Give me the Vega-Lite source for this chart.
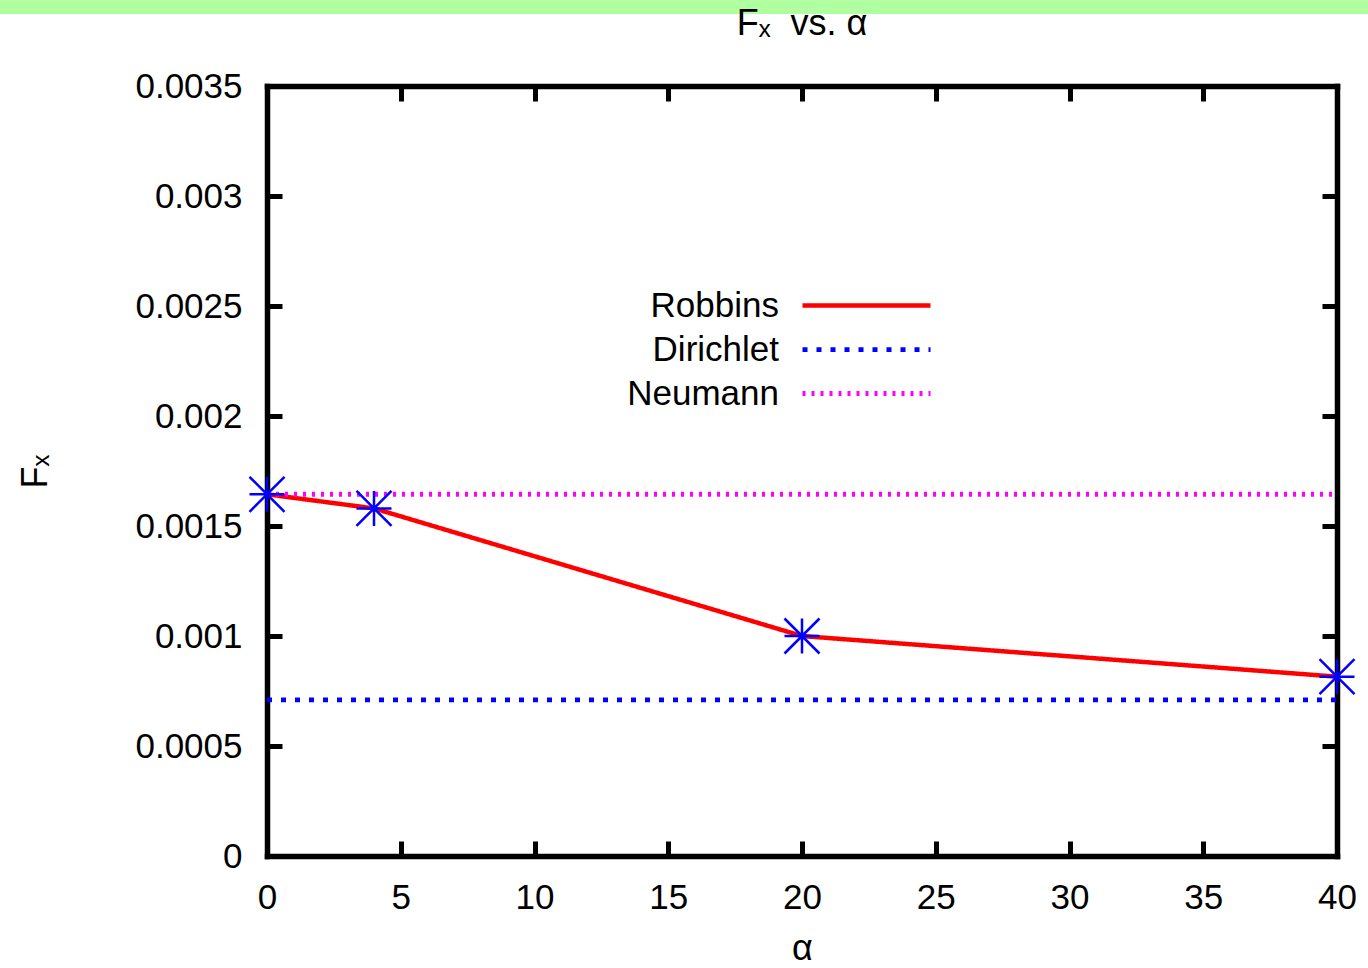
{
  "$schema": "https://vega.github.io/schema/vega-lite/v6.json",
  "padding": 0,
  "background": "white",
  "spacing": 0,
  "bounds": "flush",
  "config": {
    "view": {"stroke": null},
    "font": "Liberation Sans",
    "axis": {
      "grid": false,
      "domainColor": "black",
      "domainWidth": 5.5,
      "domainCap": "square",
      "tickColor": "black",
      "tickWidth": 5,
      "tickSize": -15,
      "labelFontSize": 35,
      "labelColor": "black",
      "labelFlush": false,
      "labelOverlap": false,
      "titleFontSize": 36,
      "titleFontWeight": "normal",
      "titleColor": "black"
    },
    "legend": {
      "orient": "none",
      "legendX": 849,
      "legendY": 288,
      "padding": 0,
      "labelFontSize": 35,
      "labelColor": "black",
      "labelAlign": "right",
      "labelOffset": -105,
      "labelLimit": 0,
      "symbolType": "M-8,0L8,0",
      "symbolSize": 256,
      "rowPadding": 8
    }
  },
  "vconcat": [
    {
      "width": 1368,
      "height": 14,
      "view": {"fill": "#b0ffa0", "stroke": null},
      "data": {"values": [{"a": 1}]},
      "mark": {"type": "point", "opacity": 0},
      "encoding": {}
    },
    {
      "width": 1368,
      "height": 954,
      "title": {
        "text": "Fₓ\u00a0\u00a0vs. α",
        "fontSize": 36,
        "fontWeight": "normal",
        "color": "black",
        "anchor": "middle",
        "dx": 118,
        "offset": -57,
        "baseline": "alphabetic"
      },
      "data": {
        "values": [
          {"series": "Robbins", "alpha": 0, "fx": 0.001644},
          {"series": "Robbins", "alpha": 4, "fx": 0.00158},
          {"series": "Robbins", "alpha": 20, "fx": 0.001},
          {"series": "Robbins", "alpha": 40, "fx": 0.000815},
          {"series": "Dirichlet", "alpha": 0, "fx": 0.00071},
          {"series": "Dirichlet", "alpha": 40, "fx": 0.00071},
          {"series": "Neumann", "alpha": 0, "fx": 0.001644},
          {"series": "Neumann", "alpha": 40, "fx": 0.001644}
        ]
      },
      "layer": [
        {
          "mark": {"type": "line", "clip": false},
          "encoding": {
            "x": {
              "field": "alpha",
              "type": "quantitative",
              "scale": {"domain": [0, 40], "range": [267, 1337], "nice": false},
              "axis": {
                "orient": "bottom",
                "offset": -112,
                "values": [0, 5, 10, 15, 20, 25, 30, 35, 40],
                "labelPadding": 39,
                "title": "α",
                "titlePadding": 16
              }
            },
            "y": {
              "field": "fx",
              "type": "quantitative",
              "scale": {"domain": [0, 0.0035], "range": [842, 72], "nice": false, "zero": false},
              "axis": {
                "orient": "left",
                "offset": -267,
                "values": [0, 0.0005, 0.001, 0.0015, 0.002, 0.0025, 0.003, 0.0035],
                "format": ".4~f",
                "labelPadding": 40,
                "title": "Fₓ",
                "titlePadding": 80
              }
            },
            "color": {
              "field": "series",
              "type": "nominal",
              "scale": {"domain": ["Robbins", "Dirichlet", "Neumann"], "range": ["#ff0000", "#0000ff", "#ff00ff"]},
              "legend": {"title": null}
            },
            "strokeDash": {
              "field": "series",
              "type": "nominal",
              "scale": {"domain": ["Robbins", "Dirichlet", "Neumann"], "range": [[1, 0], [5, 9], [3, 6]]},
              "legend": {"title": null}
            },
            "strokeWidth": {
              "field": "series",
              "type": "nominal",
              "scale": {"domain": ["Robbins", "Dirichlet", "Neumann"], "range": [4.5, 5, 4]},
              "legend": {"title": null}
            }
          }
        },
        {
          "transform": [{"filter": "datum.series === 'Robbins'"}],
          "mark": {
            "type": "point",
            "shape": "M-1,0L1,0M0,-1L0,1M-1,-1L1,1M-1,1L1,-1",
            "size": 1225,
            "filled": false,
            "stroke": "#0000ff",
            "strokeWidth": 2.5,
            "opacity": 1,
            "clip": false
          },
          "encoding": {
            "x": {
              "field": "alpha",
              "type": "quantitative",
              "axis": {
                "orient": "top",
                "offset": -72,
                "values": [0, 5, 10, 15, 20, 25, 30, 35, 40],
                "labels": false,
                "title": null
              }
            },
            "y": {
              "field": "fx",
              "type": "quantitative",
              "axis": {
                "orient": "right",
                "offset": -31,
                "values": [0, 0.0005, 0.001, 0.0015, 0.002, 0.0025, 0.003, 0.0035],
                "labels": false,
                "title": null
              }
            }
          }
        }
      ],
      "resolve": {"axis": {"x": "independent", "y": "independent"}}
    }
  ]
}
